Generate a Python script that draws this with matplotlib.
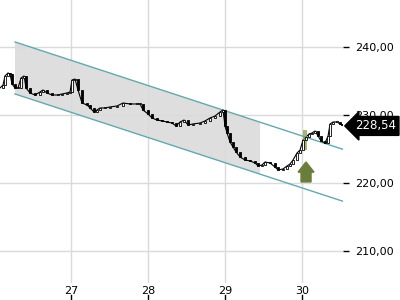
import matplotlib
matplotlib.use('Agg')
import matplotlib.pyplot as plt
from matplotlib.patches import FancyArrow, Polygon
from matplotlib.ticker import FuncFormatter

# price path (time in days, price)
times = [26.078, 26.117, 26.143, 26.182, 26.208, 26.234, 26.273, 26.312, 26.351, 26.39,
         26.416, 26.468, 26.532, 26.597, 26.636, 26.688, 26.753, 26.831, 26.883, 26.948,
         26.987, 27.013, 27.052, 27.091, 27.143, 27.208, 27.247, 27.299, 27.338, 27.377,
         27.442, 27.506, 27.597, 27.675, 27.766, 27.857, 27.896, 27.935, 28.0, 28.052,
         28.117, 28.182, 28.247, 28.312, 28.364, 28.416, 28.468, 28.519, 28.584, 28.675,
         28.74, 28.805, 28.87, 28.935, 28.974, 29.0, 29.026, 29.065, 29.104, 29.143,
         29.195, 29.26, 29.325, 29.39, 29.429, 29.481, 29.519, 29.584, 29.649, 29.688,
         29.753, 29.805, 29.844, 29.883, 29.935, 29.974, 30.013, 30.052, 30.091, 30.13,
         30.169, 30.208, 30.247, 30.299, 30.338, 30.364, 30.403, 30.455, 30.494, 30.519]
prices = [233.97, 234.41, 235.74, 236.18, 236.03, 234.56, 233.97, 233.97, 235.44, 235.74,
          233.97, 233.24, 232.94, 233.38, 233.68, 233.24, 232.94, 232.94, 233.09, 233.24,
          233.38, 235.15, 235.29, 233.68, 231.76, 231.47, 231.03, 230.44, 230.74, 231.03,
          231.03, 231.18, 231.32, 231.76, 231.62, 231.62, 231.62, 230.74, 230.15, 229.56,
          229.26, 229.12, 228.97, 228.82, 228.38, 228.97, 229.26, 228.53, 228.68, 228.82,
          229.12, 229.56, 229.85, 230.44, 230.74, 228.38, 227.35, 226.03, 225.29, 224.56,
          223.82, 223.38, 223.24, 222.94, 222.5, 222.65, 223.09, 222.94, 222.35, 221.91,
          222.06, 222.5, 222.79, 223.38, 224.41, 224.85, 226.32, 226.76, 227.21, 227.35,
          227.65, 226.91, 226.18, 225.88, 226.91, 228.68, 228.97, 228.97, 228.68, 228.54]

last_price = 228.54

# trend channel
chan_t = [26.273, 30.558]
chan_upper = [240.74, 224.85]
chan_lower = [233.09, 217.21]
fill_end = 29.455

# signal marker
signal_t = 30.052
signal_bar = [224.85, 227.79]
arrow_base = 220.15
arrow_top = 223.09

day_ticks = [27, 28, 29, 30]
price_ticks = [210, 220, 230, 240]

fig = plt.figure(figsize=(4, 3), dpi=100)
ax = fig.add_axes([0, 17 / 300, 343 / 400, 283 / 300])
ax.set_xlim(26.078, 30.532)
ax.set_ylim(205.29, 246.91)

for s in ax.spines.values():
    s.set_visible(False)

ax.set_xticks(day_ticks)
ax.set_yticks(price_ticks)
ax.grid(True, color='#dadada', lw=1.0, zorder=0)
ax.tick_params(axis='x', length=0, labelbottom=False)
ax.yaxis.tick_right()
ax.tick_params(axis='y', length=4, width=1, pad=5, labelsize=8, colors='black', direction='out')
ax.yaxis.set_major_formatter(FuncFormatter(lambda v, p: ('%.2f' % v).replace('.', ',')))

# channel
def chan_at(t, vals):
    return vals[0] + (vals[1] - vals[0]) * (t - chan_t[0]) / (chan_t[1] - chan_t[0])

poly = Polygon([(chan_t[0], chan_upper[0]), (fill_end, chan_at(fill_end, chan_upper)),
                (fill_end, chan_at(fill_end, chan_lower)), (chan_t[0], chan_lower[0])],
               closed=True, facecolor='#dedede', edgecolor='none', zorder=1)
ax.add_patch(poly)
ax.plot(chan_t, chan_upper, color='#63a9ad', lw=1, zorder=2)
ax.plot(chan_t, chan_lower, color='#63a9ad', lw=1, zorder=2)

# price line and candle bodies
ax.plot(times, prices, color='black', lw=0.8, zorder=3)
w = 2.4 / 77
for i in range(1, len(times)):
    o, c = prices[i - 1], prices[i]
    up = c >= o
    ax.bar(times[i], abs(c - o) if abs(c - o) > 0.15 else 0.15, bottom=min(o, c), width=w,
           color='white' if up else 'black', edgecolor='black', lw=0.6, zorder=4)

# signal
ax.bar(signal_t - 0.013, signal_bar[1] - signal_bar[0], bottom=signal_bar[0], width=3.5 / 77,
       color='#8a9c52', alpha=0.75, zorder=3.5, edgecolor='none')
ax.add_patch(FancyArrow(signal_t, arrow_base, 0, arrow_top - arrow_base, width=10 / 77,
                        head_width=16 / 77, head_length=1.5, length_includes_head=True,
                        color='#6b7d3a', zorder=5))

# x tick labels above small ticks
for d in day_ticks:
    ax.text(d, 205.29 - 0.4, str(d), ha='center', va='top', fontsize=8, clip_on=False)
    ax.plot([d, d], [205.29 - 1.75, 205.29 - 2.5], color='black', lw=1, clip_on=False)

# last price label
ax.annotate(('%.2f' % last_price).replace('.', ','), xy=(1.005, last_price),
            xycoords=('axes fraction', 'data'), xytext=(1.035, last_price - 0.15),
            textcoords=('axes fraction', 'data'), va='center', ha='left',
            color='white', fontsize=8.5, annotation_clip=False,
            bbox=dict(boxstyle='larrow,pad=0.25', fc='black', ec='black'))

fig.savefig('out.png', dpi=100)
